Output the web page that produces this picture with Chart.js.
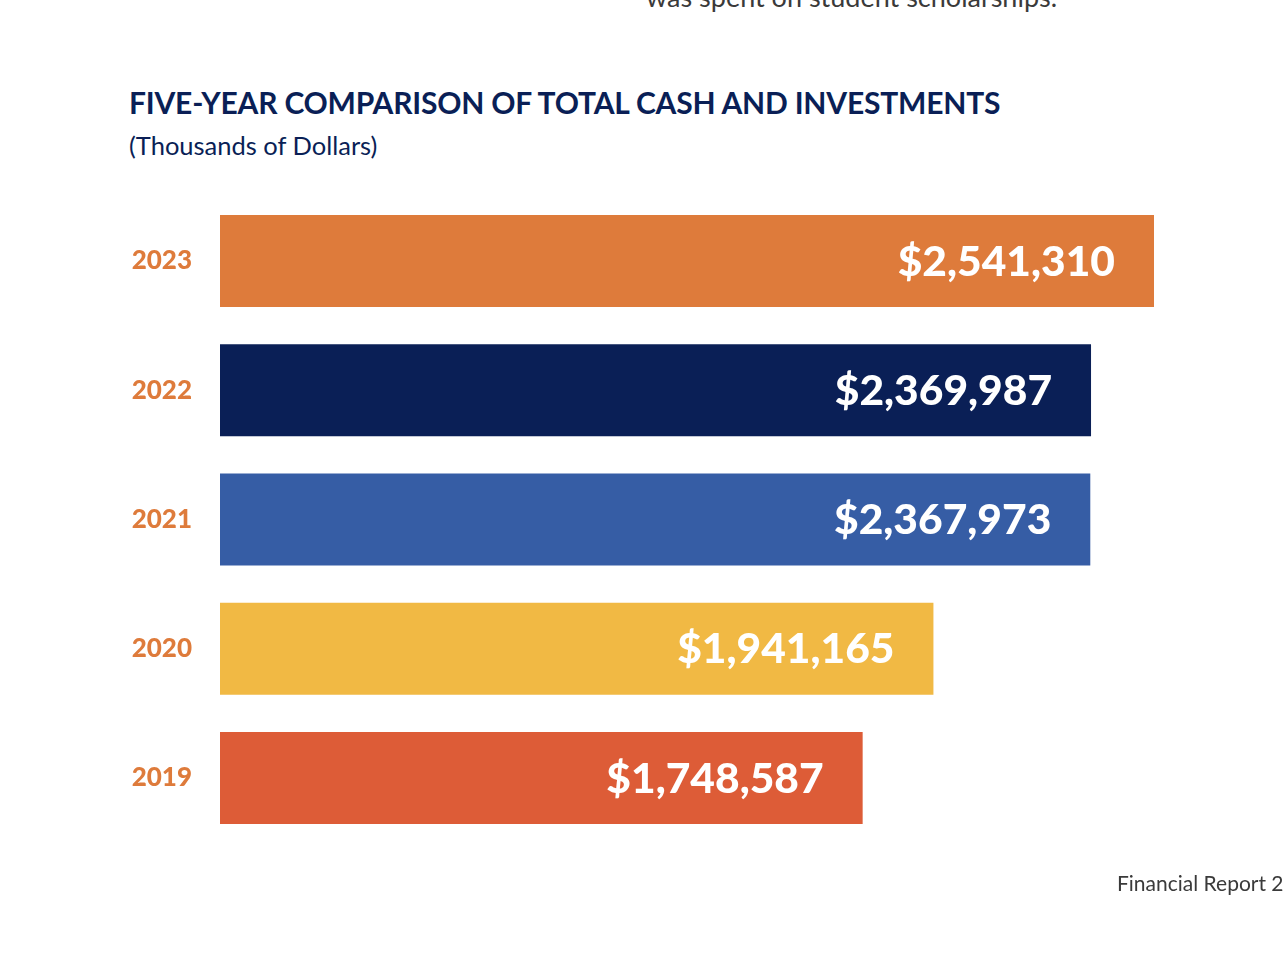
<!DOCTYPE html>
<html>
<head>
<meta charset="utf-8">
<script src="https://cdn.jsdelivr.net/npm/chart.js@4"></script>
<style>
  html, body { margin: 0; padding: 0; background: #fff; }
  body { width: 1284px; height: 954px; position: relative; overflow: hidden; font-family: Lato, sans-serif; }
  #wrap { position: absolute; left: 0; top: 0; width: 1284px; height: 954px; }
  .txt { position: absolute; white-space: nowrap; }
  #lead { left: 646px; top: -20px; font-size: 27px; color: #3a3a3a; }
  #title { left: 129px; top: 84px; font-size: 30px; font-weight: 700; color: #0a1f56; letter-spacing: -0.2px; }
  #sub { left: 129px; top: 130px; font-size: 25.5px; color: #0a1f56; }
  #foot { left: 1117px; top: 870px; font-size: 21px; color: #3a3a3a; }
</style>
</head>
<body>
<div class="txt" id="lead">was spent on student scholarships.</div>
<div class="txt" id="title">FIVE-YEAR COMPARISON OF TOTAL CASH AND INVESTMENTS</div>
<div class="txt" id="sub">(Thousands of Dollars)</div>
<div id="wrap"><canvas id="barChart"></canvas></div>
<div class="txt" id="foot">Financial Report 2</div>
<script>
  const years = ['2023', '2022', '2021', '2020', '2019'];
  const totals = [2541310, 2369987, 2367973, 1941165, 1748587];
  const barColors = ['#de7b3b', '#0a1f56', '#365da5', '#f1b944', '#dd5c37'];

  // white value labels inside the end of each bar
  const valueLabels = {
    id: 'valueLabels',
    afterDatasetsDraw(chart) {
      const ctx = chart.ctx;
      const meta = chart.getDatasetMeta(0);
      ctx.save();
      ctx.font = '900 42.5px Lato';
      ctx.fillStyle = '#ffffff';
      ctx.textAlign = 'right';
      ctx.textBaseline = 'middle';
      meta.data.forEach((bar, i) => {
        ctx.fillText('$' + totals[i].toLocaleString('en-US'), bar.x - 39, bar.y + 1);
      });
      ctx.restore();
    }
  };

  const data = {
    labels: years,
    datasets: [{
      label: 'Total cash and investments',
      data: totals,
      backgroundColor: barColors,
      borderWidth: 0,
      barPercentage: 1,
      categoryPercentage: 0.712
    }]
  };

  const config = {
    type: 'bar',
    data: data,
    options: {
      indexAxis: 'y',
      responsive: true,
      maintainAspectRatio: false,
      animation: false,
      layout: { padding: { top: 196.4, bottom: 111.4, right: 130, left: 0 } },
      plugins: { legend: { display: false }, tooltip: { enabled: false } },
      scales: {
        x: { display: false, min: 0, max: 2541310 },
        y: {
          grid: { display: false, drawTicks: false },
          border: { display: false },
          ticks: {
            color: '#de7b3b',
            font: { family: 'Lato', size: 26, weight: '900' },
            padding: 28
          },
          afterFit(scale) { scale.width = 220; }
        }
      }
    },
    plugins: [valueLabels]
  };

  const barChart = new Chart(
    document.getElementById('barChart'),
    config
  );
</script>
</body>
</html>
